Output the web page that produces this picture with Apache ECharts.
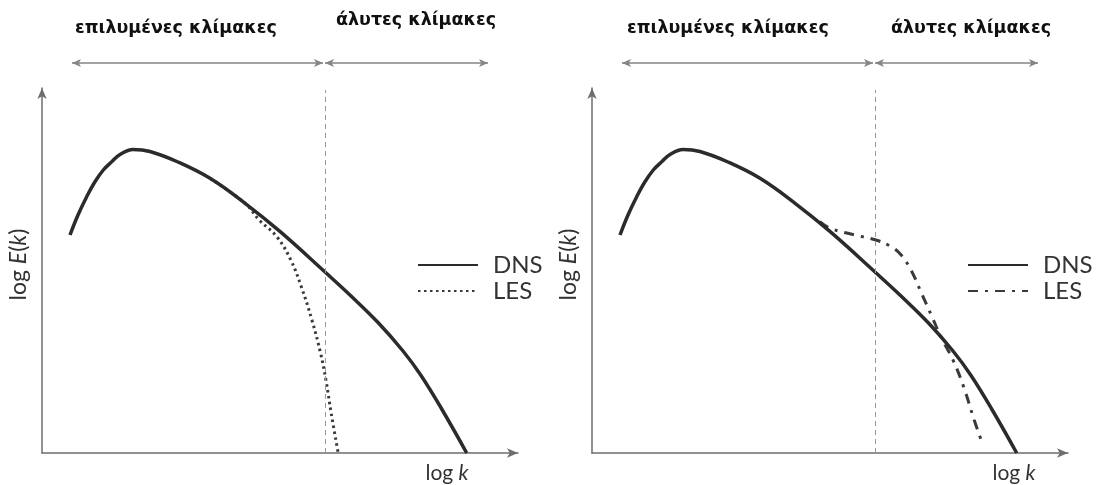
<!DOCTYPE html>
<html><head><meta charset="utf-8">
<script src="https://cdn.jsdelivr.net/npm/echarts@6/dist/echarts.min.js"></script>
<style>html,body{margin:0;padding:0;background:#fff}#c{width:1098px;height:485px}</style>
</head><body><div id="c"></div>
<script>
// ---- text ----
const headingResolved = 'επιλυμένες κλίμακες';
const headingUnresolved = 'άλυτες κλίμακες';
const yAxisTitle = 'log {i|E}({i|k})';
const xAxisTitle = 'log {i|k}';

// ---- DNS energy spectrum (log k, log E), shared by both panels ----
const dnsX = [28, 36, 44.7, 52.5, 61.3, 70, 78, 91, 108, 136, 168, 203.1, 238.2, 283, 308.5, 336.5, 361, 378.7, 399.7, 424.7];
const dnsY = [218, 238, 256.3, 270.5, 283, 291.5, 298.5, 303.5, 301.5, 291, 274.7, 249.7, 221.3, 181, 157.5, 130, 102, 78, 44, 0];

// ---- LES, left panel (dotted, falls off before cutoff) ----
const lesLeftX = [168, 203.1, 217.2, 234.8, 248.8, 259.3, 269.9, 278.6, 283.9, 289.2, 296.2];
const lesLeftY = [274.7, 249.7, 233, 216.3, 193, 166.3, 133, 99.7, 73, 39.7, 0];

// ---- LES, right panel (dash-dot, energy pile-up) ----
const lesRightX = [227.8, 238.3, 262.9, 283.9, 298, 308.5, 319, 329.5, 340, 348.8, 361, 371.6, 382.2, 391];
const lesRightY = [231.3, 224.7, 218, 213, 207, 198.7, 183, 159.7, 136.3, 116.3, 93, 66.3, 33, 8];

// ---- annotations ----
const cutoffK = 283;          // filter cutoff (vertical dashed line)
const cutoffTop = 363;
const bandY = 390;            // height of the scale-range arrows
const resolvedBand = [30, 281];
const unresolvedBand = [283, 446];

const zip = (xs, ys) => xs.map((x, i) => [x, ys[i]]);

const FONT = 'Lato, "Open Sans", sans-serif';
const HFONT = '"DejaVu Sans", sans-serif';
const INK = '#2b2b2b';
const AXIS = '#6e6e6e';

function mainX(i, gap) {
  return { gridIndex: i, type: 'value', min: 0, max: 476,
    name: xAxisTitle, nameLocation: 'end', nameGap: gap,
    nameTextStyle: { fontFamily: FONT, fontSize: 21, color: '#333', align: 'center', verticalAlign: 'top', padding: [10, 0, 0, 0],
      rich: { i: { fontFamily: FONT, fontSize: 21, color: '#333', fontStyle: 'italic' } } },
    axisLine: { show: true, symbol: ['none', 'arrow'], symbolSize: [7, 11], lineStyle: { color: AXIS, width: 1.5 } },
    axisTick: { show: false }, axisLabel: { show: false }, splitLine: { show: false } };
}
function mainY(i) {
  return { gridIndex: i, type: 'value', min: 0, max: 365,
    name: yAxisTitle, nameLocation: 'middle', nameRotate: 90, nameGap: 12,
    nameTextStyle: { fontFamily: FONT, fontSize: 23, color: '#333', padding: [0, 0, 0, 12],
      rich: { i: { fontFamily: FONT, fontSize: 23, color: '#333', fontStyle: 'italic' } } },
    axisLine: { show: true, symbol: ['none', 'arrow'], symbolSize: [7, 11], lineStyle: { color: AXIS, width: 1.5 } },
    axisTick: { show: false }, axisLabel: { show: false }, splitLine: { show: false } };
}
function hiddenX(i) { return { gridIndex: i, type: 'value', min: 0, max: 476, show: false }; }
function hiddenY(i) { return { gridIndex: i, type: 'value', min: 0, max: 420, show: false }; }

const cutoffLine = {
  silent: true, symbol: 'none', animation: false,
  label: { show: false },
  lineStyle: { type: [5, 4], color: '#9a9a9a', width: 1 },
  emphasis: { disabled: true },
  data: [[{ coord: [cutoffK, 0] }, { coord: [cutoffK, cutoffTop] }]]
};
const bandLines = {
  silent: true, symbol: ['arrow', 'arrow'], symbolSize: [6, 9], animation: false,
  label: { show: false },
  lineStyle: { type: 'solid', color: '#858585', width: 1.5 },
  emphasis: { disabled: true },
  data: [
    [{ coord: [resolvedBand[0], bandY] }, { coord: [resolvedBand[1], bandY] }],
    [{ coord: [unresolvedBand[0], bandY] }, { coord: [unresolvedBand[1], bandY] }]
  ]
};

const dnsStyle = { color: INK, width: 3.5 };
const headStyle = { fontFamily: HFONT, fontWeight: 'bold', fontSize: 17.5, color: '#111' };
const legendBase = { orient: 'vertical', top: 247, itemWidth: 60, itemHeight: 14, itemGap: 0,
  itemStyle: { opacity: 0 }, formatter: n => n.trim(), selectedMode: false,
  textStyle: { fontFamily: FONT, fontSize: 24, lineHeight: 26, color: '#333', padding: [0, 0, 0, 10] } };

const option = {
  animation: false,
  backgroundColor: '#ffffff',
  title: [
    { text: headingResolved, left: 75, top: 19, padding: 0, textStyle: headStyle },
    { text: headingUnresolved, left: 336, top: 11, padding: 0, textStyle: headStyle },
    { text: headingResolved, left: 627, top: 19, padding: 0, textStyle: headStyle },
    { text: headingUnresolved, left: 891, top: 19, padding: 0, textStyle: headStyle }
  ],
  legend: [
    Object.assign({ data: ['DNS', 'LES'], left: 412 }, legendBase),
    Object.assign({ data: ['DNS', 'LES '], left: 962 }, legendBase)
  ],
  grid: [
    { left: 42, top: 88, width: 476, height: 365 },
    { left: 592, top: 88, width: 476, height: 365 },
    { left: 42, top: 33, width: 476, height: 420 },
    { left: 592, top: 33, width: 476, height: 420 }
  ],
  xAxis: [mainX(0, -71), mainX(1, -54), hiddenX(2), hiddenX(3)],
  yAxis: [mainY(0), mainY(1), hiddenY(2), hiddenY(3)],
  series: [
    { name: 'DNS', type: 'line', xAxisIndex: 0, yAxisIndex: 0, data: zip(dnsX, dnsY), smooth: 0.4,
      symbol: 'none', lineStyle: dnsStyle, itemStyle: { color: INK }, markLine: cutoffLine, z: 3 },
    { name: 'LES', type: 'line', xAxisIndex: 0, yAxisIndex: 0, data: zip(lesLeftX, lesLeftY), smooth: 0.4,
      symbol: 'none', lineStyle: { color: '#3a3a3a', width: 3, type: [2.5, 3.5] }, itemStyle: { color: '#3a3a3a' }, z: 2 },
    { name: 'DNS', type: 'line', xAxisIndex: 1, yAxisIndex: 1, data: zip(dnsX, dnsY), smooth: 0.4,
      symbol: 'none', lineStyle: dnsStyle, itemStyle: { color: INK }, markLine: cutoffLine, z: 3 },
    { name: 'LES ', type: 'line', xAxisIndex: 1, yAxisIndex: 1, data: zip(lesRightX, lesRightY), smooth: 0.4,
      symbol: 'none', lineStyle: { color: '#3a3a3a', width: 3, type: [10, 7, 3, 7] }, itemStyle: { color: '#3a3a3a' }, z: 2 },
    { name: 'bandsL', type: 'line', xAxisIndex: 2, yAxisIndex: 2, data: [], markLine: bandLines },
    { name: 'bandsR', type: 'line', xAxisIndex: 3, yAxisIndex: 3, data: [], markLine: bandLines }
  ]
};
const chart = echarts.init(document.getElementById('c'), null, { renderer: 'canvas' });
chart.setOption(option);
</script>
</body></html>
